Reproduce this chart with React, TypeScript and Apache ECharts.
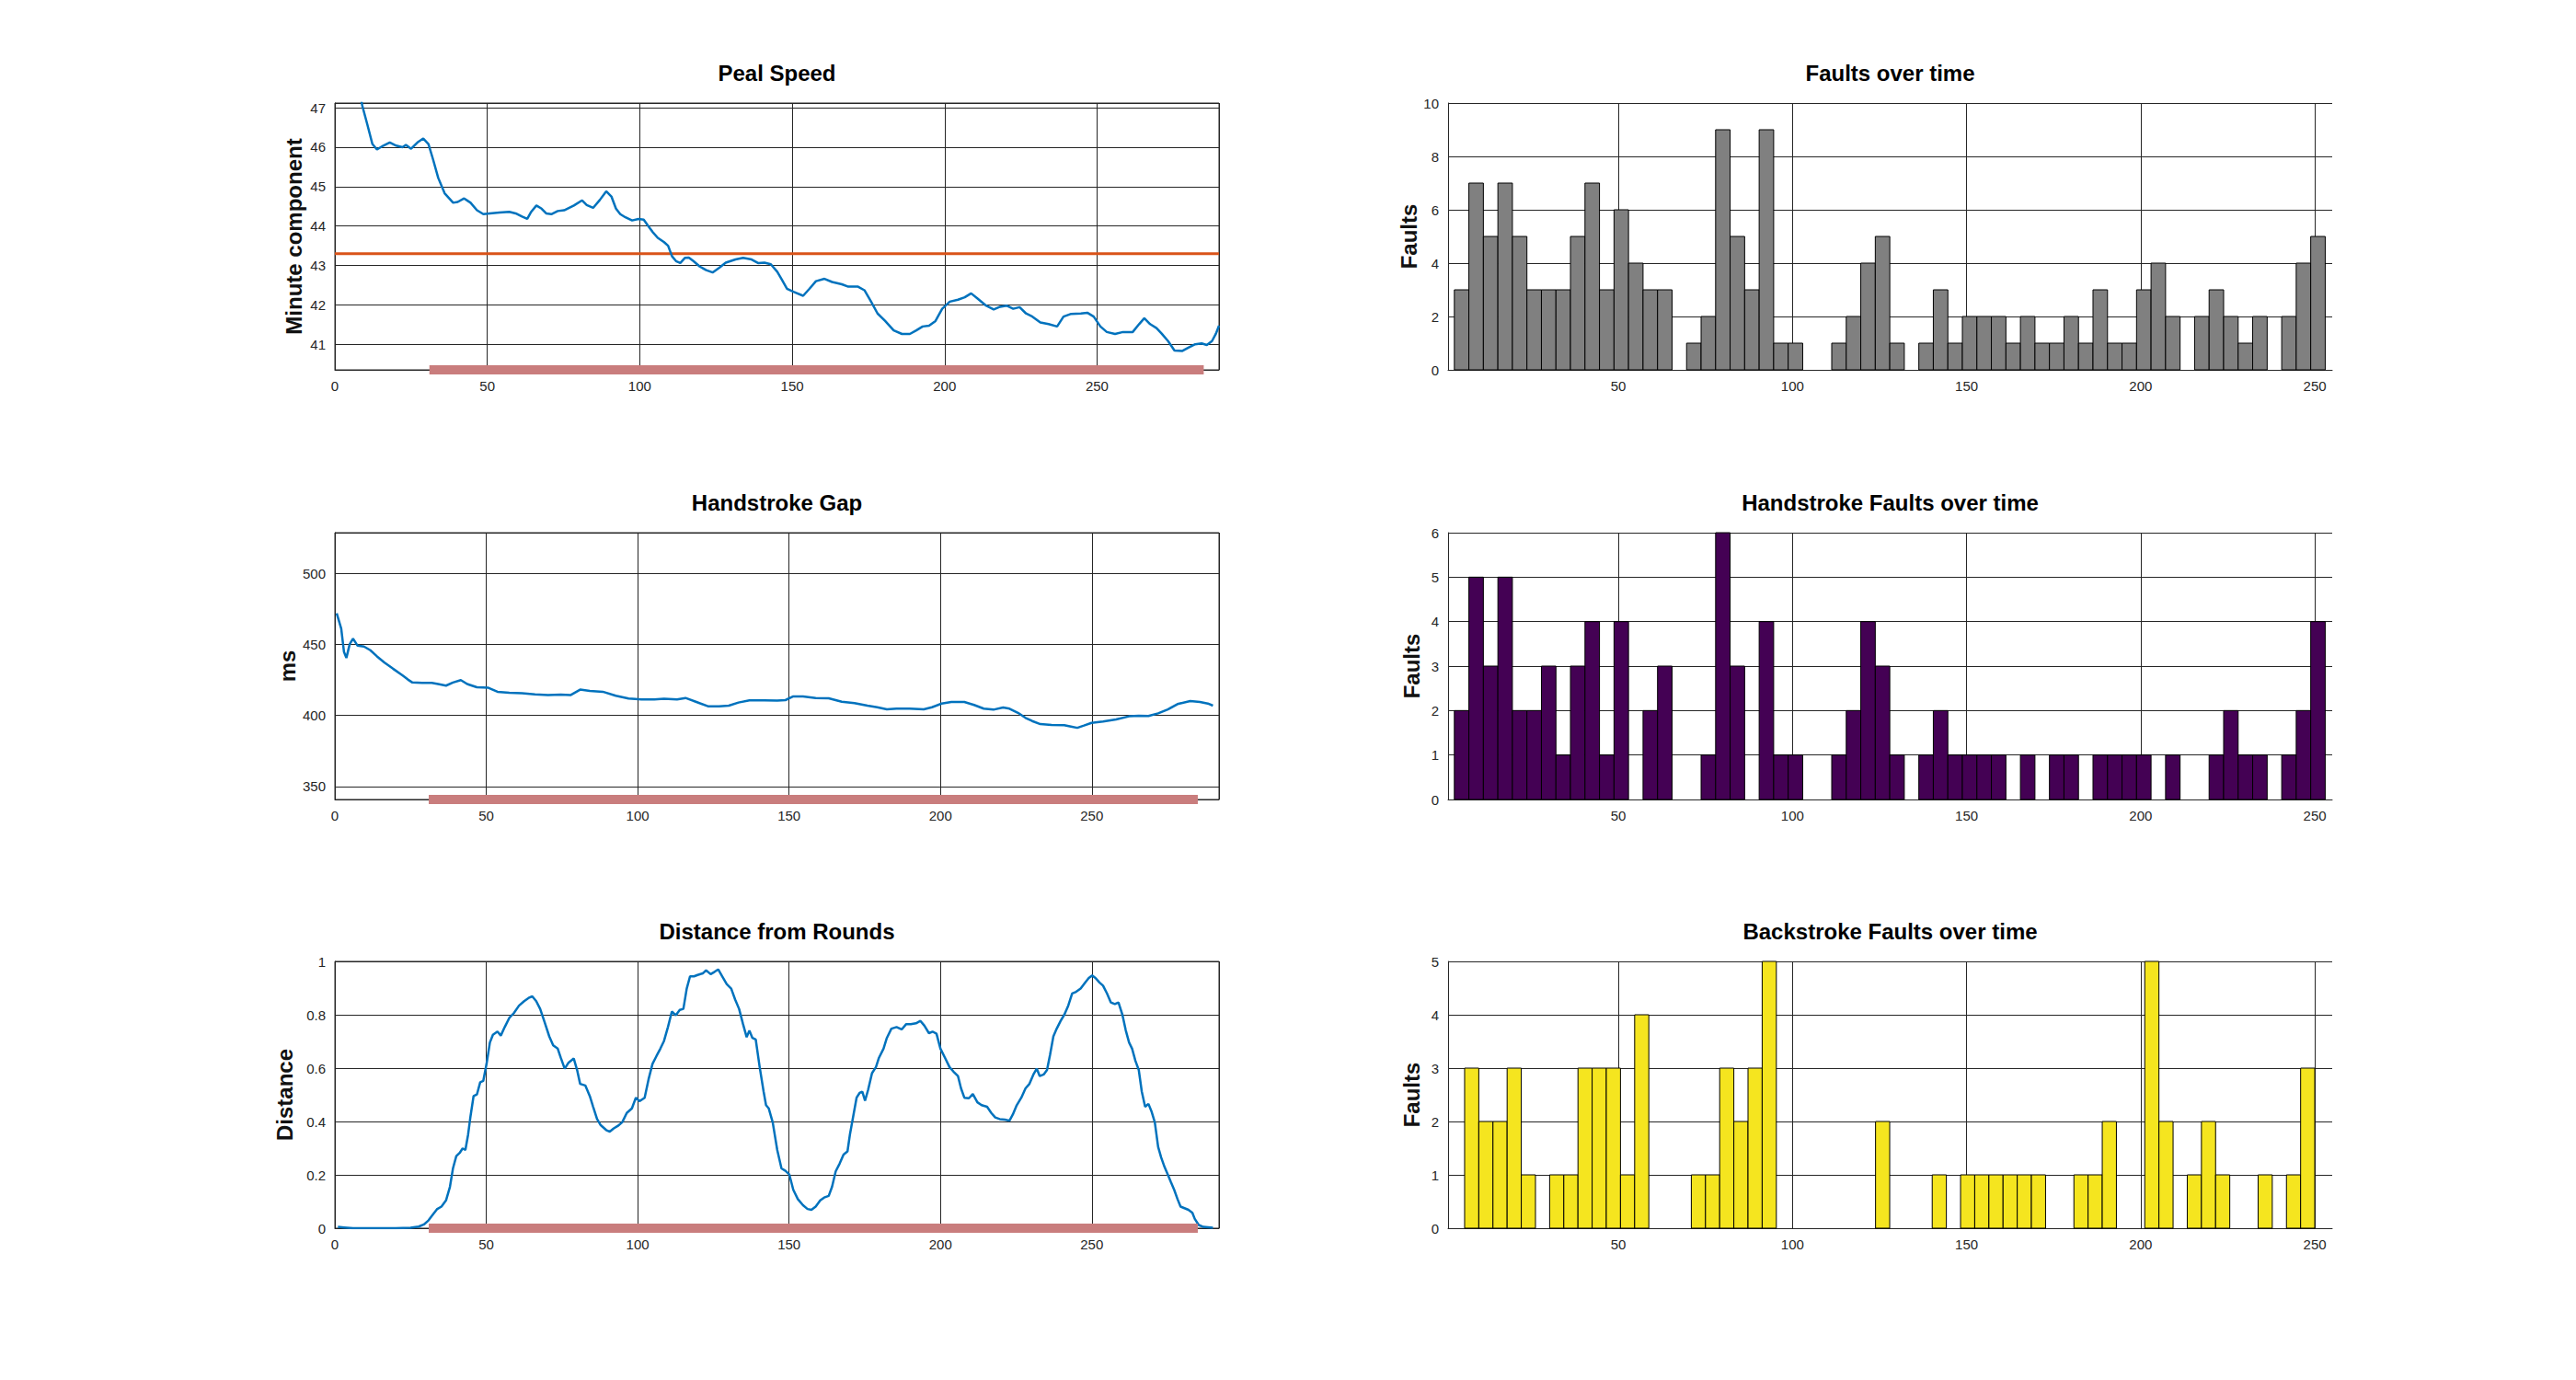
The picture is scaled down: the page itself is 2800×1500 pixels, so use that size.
import React, { useRef, useEffect } from 'react';
import * as echarts from 'echarts';

// ---- data ----
const pealSpeed: [number, number][] = [
  [7, 47.9], [9, 47.05], [10.6, 46.59], [12.3, 46.08], [13.8, 45.94], [15.9, 46.04], [18, 46.12],
  [20.1, 46.04], [22.2, 46.0], [23.3, 46.06], [25, 45.96], [27.1, 46.12], [29, 46.22], [30.7, 46.08],
  [32.2, 45.69], [33.9, 45.22], [36, 44.83], [38.8, 44.59], [40.3, 44.61], [42.4, 44.7], [44.5, 44.59],
  [46.6, 44.4], [48.7, 44.3], [50.8, 44.32], [54, 44.34], [57.2, 44.36], [59.3, 44.32], [61.4, 44.24],
  [63.1, 44.18], [64.4, 44.36], [66.1, 44.52], [67.8, 44.44], [69.3, 44.32], [71, 44.3], [73.1, 44.38],
  [75.2, 44.4], [78.4, 44.52], [81.1, 44.65], [82.6, 44.53], [84.7, 44.46], [86.9, 44.66], [89, 44.88],
  [90.7, 44.75], [92.2, 44.44], [93.6, 44.3], [95.3, 44.22], [97.5, 44.14], [99.6, 44.18], [101.3, 44.16],
  [102.8, 44.0], [104.2, 43.85], [105.9, 43.7], [108, 43.59], [109.3, 43.5], [110.6, 43.23], [111.9, 43.11],
  [113.3, 43.06], [114.8, 43.19], [116.1, 43.2], [117.6, 43.11], [119.7, 42.97], [121.8, 42.88], [123.9, 42.82],
  [126.1, 42.94], [128.2, 43.07], [131.4, 43.15], [133.9, 43.19], [136.7, 43.15], [138.8, 43.06], [140.9, 43.07],
  [143, 43.03], [145.1, 42.84], [146.6, 42.64], [148.3, 42.41], [150.4, 42.33], [153.6, 42.23], [155.7, 42.41],
  [157.8, 42.6], [160.6, 42.66], [163.1, 42.58], [166.3, 42.52], [168.4, 42.46], [171.6, 42.46], [173.7, 42.37],
  [175.8, 42.09], [178, 41.78], [180.5, 41.59], [183.3, 41.35], [186, 41.26], [188.6, 41.26], [190.7, 41.35],
  [192.8, 41.45], [194.9, 41.47], [197, 41.59], [199.2, 41.9], [201.7, 42.08], [204.4, 42.13], [206.6, 42.19],
  [208.7, 42.29], [210.8, 42.16], [213.6, 41.98], [216.1, 41.88], [218.2, 41.95], [220.3, 41.98], [222.5, 41.9],
  [224.6, 41.94], [226.7, 41.78], [228.8, 41.7], [231.4, 41.55], [234.1, 41.51], [236.9, 41.45], [239, 41.7],
  [241.5, 41.77], [244.7, 41.78], [246.8, 41.8], [248.9, 41.7], [251.1, 41.45], [253.2, 41.31], [255.9, 41.26],
  [258.5, 41.31], [261.7, 41.31], [263.8, 41.51], [265.5, 41.66], [267.4, 41.51], [269.5, 41.41], [271.2, 41.27],
  [273.3, 41.08], [275.4, 40.84], [278, 40.83], [280.1, 40.92], [282.2, 41.0], [284.3, 41.02], [286, 40.98],
  [287.7, 41.08], [289, 41.27], [290, 41.47],
];
const pealTarget = 43.3;

const handstrokeGap: [number, number][] = [
  [0.6, 471.9], [2.1, 461], [3, 444.8], [3.8, 440.5], [4.9, 450.2], [6, 454.1], [7.5, 449.1], [9.6, 448.5],
  [11.7, 445.9], [13.9, 441.6], [16.4, 437.2], [19.2, 432.9], [22.4, 428.1], [24.1, 425.3], [25.6, 423.2],
  [28.8, 422.9], [32, 422.9], [34.1, 422.1], [36.7, 421], [39, 423.2], [41.6, 424.9], [43.7, 422.1],
  [46.9, 419.9], [50.7, 419.5], [53.7, 416.7], [57.6, 416], [61.8, 415.6], [66.1, 414.9], [70.4, 414.3],
  [74.6, 414.7], [77.8, 414.3], [81, 418.2], [84.2, 417.3], [88.5, 416.7], [92.8, 413.9], [97, 411.9],
  [101.3, 411.3], [105.5, 411.3], [108.7, 411.7], [113, 411.3], [115.8, 412.3], [119.4, 409.5], [123.2, 406.5],
  [126.9, 406.5], [130.1, 406.9], [133.3, 409.1], [136.9, 410.6], [141.8, 410.6], [146.1, 410.4], [148.8, 410.8],
  [151.4, 413.4], [154.6, 413.4], [158.8, 412.3], [163.1, 412.1], [167.4, 409.7], [171.6, 408.7], [175.9, 406.9],
  [179.1, 405.8], [182.3, 404.3], [185.5, 404.8], [189.8, 404.8], [194.5, 404.3], [197.2, 405.8], [200.4, 408.4],
  [203.6, 409.5], [207.9, 409.5], [211.1, 407.4], [214.3, 404.8], [217.5, 404.1], [220.7, 405.6], [222.8, 404.8],
  [225.6, 401.9], [228.1, 398.3], [230.3, 396.1], [233, 393.9], [236.7, 393.3], [240.9, 393.1], [243.1, 392.2],
  [245.2, 391.3], [247.4, 392.9], [249.9, 394.8], [253.7, 395.7], [258, 397.2], [262.3, 399.4], [265.5, 399.8],
  [268.7, 399.6], [271.9, 401.5], [275.1, 404.3], [278.3, 408], [282.5, 410.2], [285.7, 409.5], [288.3, 408.4],
  [290, 406.9],
];

const distance: [number, number][] = [
  [1, 0.005], [3, 0.003], [6, 0], [10, 0], [15, 0], [20, 0], [25, 0.002], [27.7, 0.006], [29.4, 0.014],
  [30.9, 0.029], [32.4, 0.052], [33.7, 0.071], [35.2, 0.081], [36.7, 0.104], [38, 0.155], [39, 0.224],
  [40.1, 0.27], [41.2, 0.282], [42.2, 0.299], [43.1, 0.293], [44, 0.351], [44.8, 0.42], [45.8, 0.495],
  [46.9, 0.501], [48, 0.547], [49, 0.552], [50.1, 0.616], [51.2, 0.696], [52.2, 0.725], [53.7, 0.737],
  [54.8, 0.722], [56.1, 0.754], [57.6, 0.788], [59.1, 0.806], [60.8, 0.834], [62.5, 0.851], [64, 0.863],
  [65.2, 0.869], [66.5, 0.851], [67.8, 0.822], [69.3, 0.771], [70.8, 0.719], [72.1, 0.685], [73.6, 0.673],
  [74.6, 0.639], [75.9, 0.598], [77.2, 0.621], [78.9, 0.636], [80, 0.593], [81, 0.541], [82.7, 0.535],
  [84.2, 0.495], [85.3, 0.455], [86.6, 0.409], [87.8, 0.386], [89.6, 0.368], [90.8, 0.362], [92.1, 0.374],
  [93.4, 0.383], [94.9, 0.397], [96.4, 0.432], [98.1, 0.449], [99.4, 0.489], [100.6, 0.476], [102.3, 0.489],
  [103.6, 0.558], [104.9, 0.616], [106.2, 0.645], [107.5, 0.673], [108.7, 0.702], [110, 0.754], [111.3, 0.812],
  [112.6, 0.798], [113.9, 0.818], [115.1, 0.822], [116.2, 0.898], [117.3, 0.944], [118.6, 0.944], [119.8, 0.949],
  [121.5, 0.955], [122.6, 0.967], [124.1, 0.952], [125.4, 0.961], [126.6, 0.97], [127.9, 0.944], [129.4, 0.915],
  [130.9, 0.898], [132.2, 0.857], [133.5, 0.822], [134.8, 0.765], [136, 0.716], [136.9, 0.741], [137.9, 0.713],
  [139, 0.707], [140.3, 0.604], [141.6, 0.512], [142.4, 0.461], [143.3, 0.449], [144.6, 0.397], [146.1, 0.293],
  [147.5, 0.224], [148.8, 0.215], [150.1, 0.201], [151.4, 0.144], [152.9, 0.109], [154.6, 0.086], [156.1, 0.072],
  [157.4, 0.069], [158.8, 0.081], [160.3, 0.104], [161.6, 0.115], [163.1, 0.121], [164.2, 0.155], [165.4, 0.213],
  [166.7, 0.242], [168, 0.276], [169.3, 0.288], [170.1, 0.351], [171.2, 0.42], [172.3, 0.489], [173.3, 0.507],
  [174.2, 0.512], [175.1, 0.478], [176.1, 0.518], [177.4, 0.581], [178.7, 0.604], [179.7, 0.639], [181.2, 0.673],
  [182.3, 0.713], [183.8, 0.748], [185.5, 0.754], [187.2, 0.745], [188.7, 0.765], [190.2, 0.765], [191.9, 0.768],
  [193.4, 0.777], [194.7, 0.759], [196.2, 0.731], [197.4, 0.737], [198.7, 0.729], [200, 0.673], [201.5, 0.639],
  [203, 0.604], [204.3, 0.587], [205.8, 0.57], [206.8, 0.524], [207.9, 0.489], [209.4, 0.487], [210.7, 0.503],
  [212.2, 0.472], [213.6, 0.461], [215.4, 0.455], [216.8, 0.432], [218.1, 0.415], [219.6, 0.409], [221.3, 0.407],
  [222.8, 0.403], [223.9, 0.426], [225.2, 0.461], [226.7, 0.489], [228.1, 0.524], [229.4, 0.541], [230.7, 0.576],
  [231.8, 0.598], [232.8, 0.57], [234.1, 0.576], [235.2, 0.593], [236.2, 0.65], [237.3, 0.719], [238.4, 0.748],
  [239.7, 0.777], [240.9, 0.8], [242.2, 0.834], [243.5, 0.88], [244.8, 0.886], [246.3, 0.898], [247.8, 0.921],
  [249, 0.938], [250.1, 0.947], [251.2, 0.938], [252.5, 0.921], [253.7, 0.909], [255, 0.88], [256.3, 0.846],
  [257.6, 0.84], [258.8, 0.846], [260.1, 0.8], [261.2, 0.742], [262.3, 0.696], [263.3, 0.673], [264.4, 0.627],
  [265.5, 0.593], [266.5, 0.512], [267.6, 0.455], [268.7, 0.466], [269.7, 0.438], [270.8, 0.397], [271.9, 0.305],
  [272.9, 0.265], [274, 0.23], [275.1, 0.201], [276.1, 0.173], [277.2, 0.144], [278.3, 0.109], [279.3, 0.081],
  [280.6, 0.075], [281.9, 0.069], [283.2, 0.058], [284, 0.035], [285.3, 0.012], [286.8, 0.005], [290, 0.002],
];

// the highlighted stretch along the bottom of each left plot
const markedRange = [31, 285];

// histogram counts, 60 bins each
const totalFaults = [
  3, 7, 5, 7, 5, 3, 3, 3, 5, 7, 3, 6, 4, 3, 3, 0, 1, 2, 9, 5, 3, 9, 1, 1, 0, 0, 1, 2, 4, 5,
  1, 0, 1, 3, 1, 2, 2, 2, 1, 2, 1, 1, 2, 1, 3, 1, 1, 3, 4, 2, 0, 2, 3, 2, 1, 2, 0, 2, 4, 5,
];
const totalRange = [2.9, 253];

const handFaults = [
  2, 5, 3, 5, 2, 2, 3, 1, 3, 4, 1, 4, 0, 2, 3, 0, 0, 1, 6, 3, 0, 4, 1, 1, 0, 0, 1, 2, 4, 3,
  1, 0, 1, 2, 1, 1, 1, 1, 0, 1, 0, 1, 1, 0, 1, 1, 1, 1, 0, 1, 0, 0, 1, 2, 1, 1, 0, 1, 2, 4,
];
const handRange = [2.9, 253];

const backFaults = [
  3, 2, 2, 3, 1, 0, 1, 1, 3, 3, 3, 1, 4, 0, 0, 0, 1, 1, 3, 2, 3, 5, 0, 0, 0, 0, 0, 0, 0, 2,
  0, 0, 0, 1, 0, 1, 1, 1, 1, 1, 1, 0, 0, 1, 1, 2, 0, 0, 5, 2, 0, 1, 2, 1, 0, 0, 1, 0, 1, 3,
];
const backRange = [5.85, 250];

const FONT = "'Liberation Sans', Arial, Helvetica, sans-serif";
const INK = '#262626';

const LEFT_X = 364;
const RIGHT_X = 1574;
const PLOT_W = 961;
const TOPS = [112, 579, 1045];
const PLOT_H = 290;

const histSeries = (counts: number[], range: number[], color: string, idx: number) => {
  const w = (range[1] - range[0]) / counts.length;
  return {
    type: 'custom',
    xAxisIndex: idx,
    yAxisIndex: idx,
    data: counts.map((c, i) => [range[0] + i * w, range[0] + (i + 1) * w, c]),
    encode: { x: [0, 1], y: 2 },
    renderItem: (_p: any, api: any) => {
      if (!api.value(2)) return null;
      const a = api.coord([api.value(0), api.value(2)]);
      const b = api.coord([api.value(1), 0]);
      return {
        type: 'rect',
        shape: { x: a[0], y: a[1], width: b[0] - a[0], height: b[1] - a[1] },
        style: { fill: color, stroke: '#000', lineWidth: 1 },
      };
    },
  };
};

const App: React.FC = () => {
  const chartRef = useRef<HTMLDivElement>(null);

  useEffect(() => {
    if (!chartRef.current) return;
    const chart = echarts.init(chartRef.current, null, { renderer: 'svg' });

    const label = { fontSize: 15, color: INK, fontFamily: FONT };
    const split = { show: true, lineStyle: { color: INK, width: 1 } };
    const axisLine = { show: true, lineStyle: { color: INK, width: 1 } };
    const nameStyle = { fontSize: 24, fontWeight: 'bold' as const, color: '#111', fontFamily: FONT };

    const grids = [0, 1, 2].flatMap((r) => [
      { left: LEFT_X, top: TOPS[r], width: PLOT_W, height: PLOT_H, show: true, borderColor: INK, borderWidth: 1 },
      { left: RIGHT_X, top: TOPS[r], width: PLOT_W, height: PLOT_H, show: false },
    ]);

    const leftX = (g: number, max: number) => ({
      type: 'value', gridIndex: g, min: 0, max, interval: 50,
      axisLine, axisTick: { show: false }, splitLine: split,
      axisLabel: { ...label, margin: 10, showMaxLabel: false },
    });
    const rightX = (g: number) => ({
      type: 'value', gridIndex: g, min: 1.1, max: 255, splitNumber: 5,
      axisLine, axisTick: { show: false },
      splitLine: { ...split, showMinLine: false, showMaxLine: false },
      axisLabel: { ...label, margin: 10, showMinLabel: false, showMaxLabel: false },
    });
    const yAx = (g: number, name: string, min: number, max: number, extra: any, gap: number) => ({
      type: 'value', gridIndex: g, min, max, ...extra,
      name, nameLocation: 'middle', nameRotate: 90, nameGap: gap, nameTextStyle: nameStyle,
      axisLine, axisTick: { show: false }, splitLine: split,
      axisLabel: { ...label, margin: 10, ...(extra.hideEdges ? { showMinLabel: false, showMaxLabel: false } : {}) },
    });

    const titles = [
      ['Peal Speed', 'Faults over time'],
      ['Handstroke Gap', 'Handstroke Faults over time'],
      ['Distance from Rounds', 'Backstroke Faults over time'],
    ];
    const graphic = titles.flatMap((pair, r) =>
      pair.map((t, c) => ({
        type: 'text',
        x: (c === 0 ? LEFT_X : RIGHT_X) + PLOT_W / 2,
        y: TOPS[r] - 33,
        style: {
          text: t, fill: '#000', textAlign: 'center', textVerticalAlign: 'middle',
          font: `bold 24px ${FONT}`,
        },
      })),
    );

    const thickBar = (idx: number, y: number) => ({
      type: 'line', xAxisIndex: idx, yAxisIndex: idx, clip: false, z: 5,
      showSymbol: false, silent: true,
      data: [[markedRange[0], y], [markedRange[1], y]],
      lineStyle: { color: '#c97d7d', width: 10, cap: 'butt' },
    });

    const option: any = {
      animation: false,
      backgroundColor: '#fff',
      textStyle: { fontFamily: FONT },
      grid: grids,
      graphic,
      xAxis: [
        leftX(0, 290), rightX(1),
        leftX(2, 292), rightX(3),
        leftX(4, 292), rightX(5),
      ],
      yAxis: [
        yAx(0, 'Minute component', 40.35, 47.12, { splitNumber: 6, hideEdges: true }, 33),
        yAx(1, 'Faults', 0, 10, { interval: 2 }, 28),
        yAx(2, 'ms', 340.9, 528.6, { splitNumber: 4, hideEdges: true }, 40),
        yAx(3, 'Faults', 0, 6, { interval: 1 }, 28),
        yAx(4, 'Distance', 0, 1, { interval: 0.2 }, 43),
        yAx(5, 'Faults', 0, 5, { interval: 1 }, 28),
      ],
      series: [
        {
          type: 'line', xAxisIndex: 0, yAxisIndex: 0, showSymbol: false, z: 3,
          data: [[0, pealTarget], [290, pealTarget]],
          lineStyle: { color: '#d95319', width: 3 },
        },
        {
          type: 'line', xAxisIndex: 0, yAxisIndex: 0, showSymbol: false, z: 4,
          data: pealSpeed, lineStyle: { color: '#0072bd', width: 2.5 },
        },
        thickBar(0, 40.35),
        {
          type: 'line', xAxisIndex: 2, yAxisIndex: 2, showSymbol: false, z: 4,
          data: handstrokeGap, lineStyle: { color: '#0072bd', width: 2.5 },
        },
        thickBar(2, 340.9),
        {
          type: 'line', xAxisIndex: 4, yAxisIndex: 4, showSymbol: false, z: 4,
          data: distance, lineStyle: { color: '#0072bd', width: 2.5 },
        },
        thickBar(4, 0),
        histSeries(totalFaults, totalRange, '#808080', 1),
        histSeries(handFaults, handRange, '#440154', 3),
        histSeries(backFaults, backRange, '#f5e51f', 5),
      ],
    };
    chart.setOption(option);

    return () => {
      chart.dispose();
    };
  }, []);

  return (
    <div
      ref={chartRef}
      style={{ position: 'absolute', left: 0, top: 0, width: '2800px', height: '1500px', background: '#fff' }}
    />
  );
};

export default App;
